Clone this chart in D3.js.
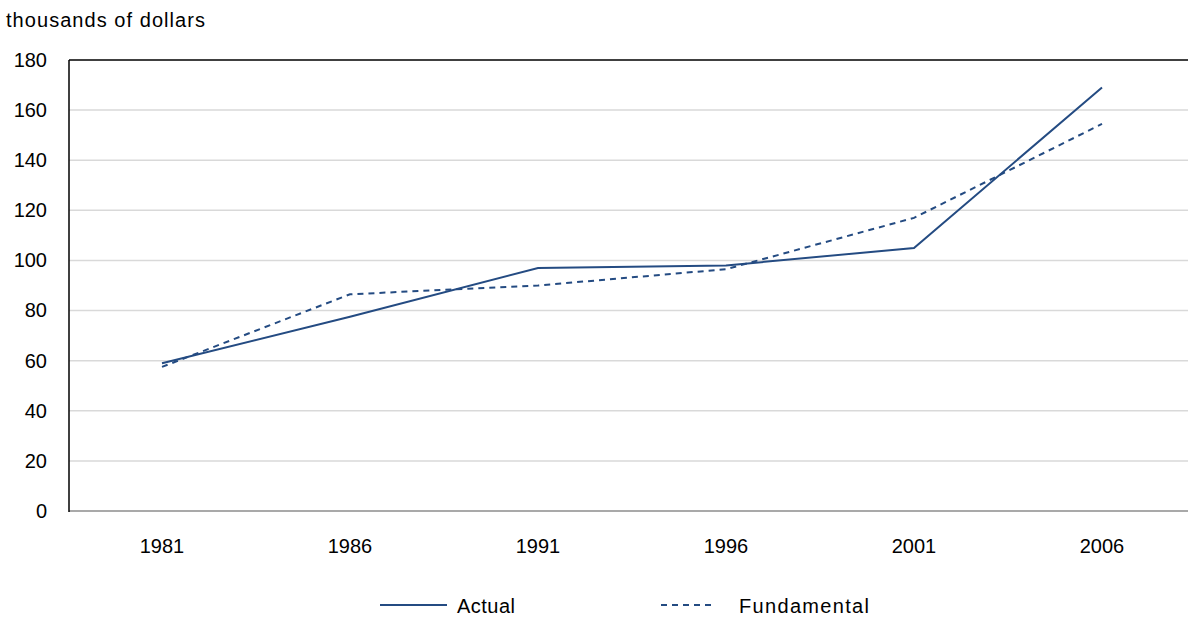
<!DOCTYPE html>
<html><head><meta charset="utf-8">
<script src="https://cdn.jsdelivr.net/npm/d3@7/dist/d3.min.js"></script>
<style>body{margin:0;background:#fff;} svg{display:block;font-family:"Liberation Sans",Arial,sans-serif;}</style>
</head><body>
<svg id="c" width="1188" height="617"></svg>
<script>
const years = ["1981","1986","1991","1996","2001","2006"];
const actual = [59, 77.5, 97, 98, 105, 169];
const fundamental = [57.5, 86.5, 90, 96.5, 117, 154.5];
const yTicks = [0,20,40,60,80,100,120,140,160,180];
const seriesNames = ["Actual","Fundamental"];

(function(){
const svg = d3.select("#c");
const mLeft = 69, mTop = 60, mBottom = 511, mRight = 1196;
const x = d3.scaleBand().domain(years).range([mLeft - 1, mRight]);
const y = d3.scaleLinear().domain([0,180]).range([mBottom, mTop]);
const color = "#244b82";
const fs = 20;

// gridlines
svg.append("g").selectAll("line").data(yTicks.filter(d => d>0 && d<180)).join("line")
  .attr("x1", mLeft).attr("x2", 1188).attr("y1", d=>y(d)).attr("y2", d=>y(d))
  .attr("stroke", "#d9d9d9").attr("stroke-width", 1.5);

// top border
svg.append("line").attr("x1", mLeft).attr("x2", 1188).attr("y1", y(180)).attr("y2", y(180))
  .attr("stroke", "#000").attr("stroke-width", 1.5);
// x axis line
svg.append("line").attr("x1", mLeft).attr("x2", 1188).attr("y1", y(0)).attr("y2", y(0))
  .attr("stroke", "#8c8c8c").attr("stroke-width", 1.5);
// y axis line
svg.append("line").attr("x1", mLeft).attr("x2", mLeft).attr("y1", y(180)).attr("y2", y(0)+1)
  .attr("stroke", "#000").attr("stroke-width", 1.5);

// y tick labels
const yAxis = d3.axisLeft(y).tickValues(yTicks).tickSize(0).tickPadding(22);
const gy = svg.append("g").attr("transform", `translate(${mLeft},0)`).call(yAxis);
gy.select(".domain").remove();
gy.selectAll("text").attr("font-size", fs).attr("fill", "#000").attr("font-family", "Liberation Sans, Arial, sans-serif");

// x tick labels
const xAxis = d3.axisBottom(x).tickSize(0).tickPadding(28);
const gx = svg.append("g").attr("transform", `translate(0,${mBottom})`).call(xAxis);
gx.select(".domain").remove();
gx.selectAll("text").attr("font-size", fs).attr("fill", "#000").attr("font-family", "Liberation Sans, Arial, sans-serif");

// unit label
svg.append("text").attr("x", 6).attr("y", 27).attr("font-size", 20).attr("fill", "#000")
  .attr("textLength", 199).attr("lengthAdjust", "spacing").text("thousands of dollars");

const line = d3.line().x((d,i)=>x(years[i]) + x.bandwidth()/2).y(d=>y(d));
svg.append("path").datum(actual).attr("d", line).attr("fill","none")
  .attr("stroke", color).attr("stroke-width", 2);
svg.append("path").datum(fundamental).attr("d", line).attr("fill","none")
  .attr("stroke", color).attr("stroke-width", 2).attr("stroke-dasharray", "6,5");

// legend
const lg = svg.append("g");
lg.append("line").attr("x1", 380).attr("x2", 447).attr("y1", 605).attr("y2", 605)
  .attr("stroke", color).attr("stroke-width", 2);
lg.append("text").attr("x", 457).attr("y", 613).attr("font-size", fs)
  .attr("textLength", 58).attr("lengthAdjust", "spacing").text(seriesNames[0]);
lg.append("line").attr("x1", 661).attr("x2", 716).attr("y1", 605).attr("y2", 605)
  .attr("stroke", color).attr("stroke-width", 2).attr("stroke-dasharray", "6,5");
lg.append("text").attr("x", 739).attr("y", 613).attr("font-size", fs)
  .attr("textLength", 130).attr("lengthAdjust", "spacing").text(seriesNames[1]);
})();
</script>
</body></html>
